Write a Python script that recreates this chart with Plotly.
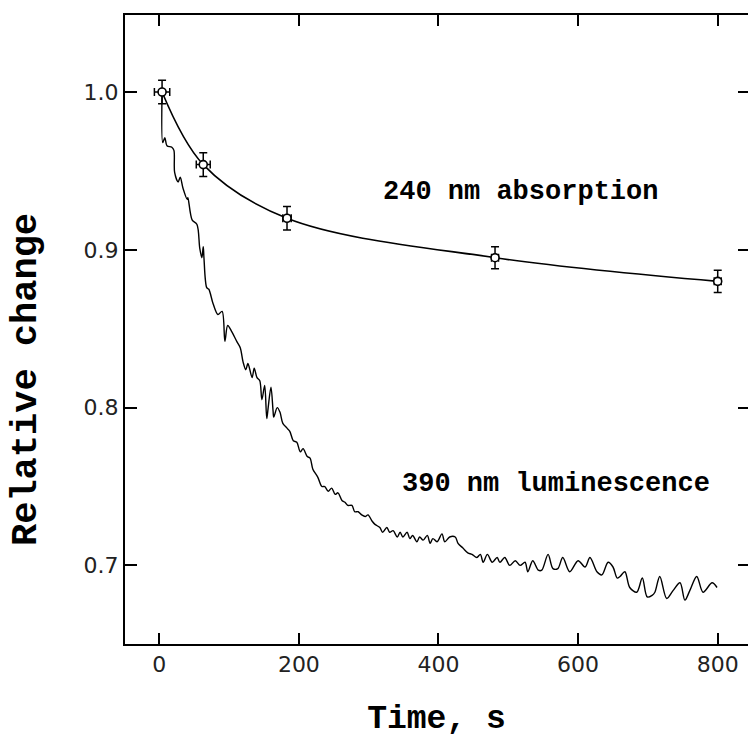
import plotly.graph_objects as go

# 240 nm absorption (points with error bars)
abs_t = [4, 63, 183, 481, 800]
abs_v = [1.000, 0.954, 0.920, 0.895, 0.880]
abs_err_v = [0.0075, 0.0075, 0.0075, 0.0070, 0.0070]
abs_err_t = [11, 10, 6, 5, 5]

# 390 nm luminescence trace
lum_t = [4, 5, 8, 11, 18, 21, 22, 27, 30, 34, 40, 41, 47, 54, 58, 61, 63, 64, 68, 71,
         77, 84, 90, 94, 98, 104, 111, 116, 120, 124, 127, 133, 136, 140, 144, 147, 151, 154, 156, 160,
         163, 164, 169, 173, 177, 183, 187, 192, 197, 202, 206, 212, 216, 220, 227, 233, 237, 242, 247, 252,
         256, 262, 266, 270, 276, 280, 285, 290, 295, 299, 305, 309, 316, 320, 326, 330, 335, 341, 345, 349,
         355, 359, 363, 369, 373, 378, 384, 388, 392, 398, 405, 409, 416, 424, 428, 435, 442, 448, 455, 460,
         464, 470, 477, 484, 488, 495, 502, 510, 517, 524, 528, 535, 543, 548, 557, 564, 571, 578, 588, 600,
         610, 617, 627, 634, 643, 650, 656, 660, 667, 674, 684, 692, 699, 706, 710, 717, 727, 736, 746, 753,
         760, 770, 779, 792, 799]
lum_v = [1.000, 0.968, 0.971, 0.966, 0.965, 0.963, 0.949, 0.943, 0.946, 0.939, 0.932, 0.933, 0.919, 0.916, 0.901, 0.895, 0.902, 0.895, 0.876, 0.875,
         0.866, 0.859, 0.861, 0.842, 0.852, 0.848, 0.842, 0.838, 0.829, 0.824, 0.828, 0.819, 0.825, 0.819, 0.817, 0.805, 0.814, 0.793, 0.800, 0.813,
         0.798, 0.794, 0.800, 0.797, 0.790, 0.787, 0.785, 0.779, 0.778, 0.772, 0.774, 0.769, 0.768, 0.761, 0.756, 0.750, 0.750, 0.747, 0.749, 0.745,
         0.746, 0.741, 0.740, 0.738, 0.738, 0.734, 0.734, 0.732, 0.731, 0.732, 0.728, 0.726, 0.724, 0.721, 0.724, 0.721, 0.722, 0.718, 0.721, 0.718,
         0.721, 0.717, 0.719, 0.715, 0.718, 0.716, 0.719, 0.714, 0.717, 0.715, 0.720, 0.715, 0.718, 0.718, 0.714, 0.711, 0.708, 0.707, 0.705, 0.707,
         0.702, 0.707, 0.702, 0.705, 0.702, 0.705, 0.700, 0.703, 0.700, 0.702, 0.696, 0.703, 0.697, 0.697, 0.707, 0.698, 0.698, 0.705, 0.696, 0.703,
         0.699, 0.705, 0.696, 0.694, 0.702, 0.699, 0.692, 0.693, 0.696, 0.686, 0.683, 0.692, 0.680, 0.681, 0.683, 0.693, 0.679, 0.684, 0.689, 0.678,
         0.684, 0.693, 0.683, 0.689, 0.686]

x_ticks = [0, 200, 400, 600, 800]
y_ticks = [0.7, 0.8, 0.9, 1.0]
y_tick_text = ["0.7", "0.8", "0.9", "1.0"]

fig = go.Figure()

fig.add_trace(go.Scatter(
    x=lum_t, y=lum_v, mode="lines",
    line=dict(color="black", width=1.4, shape="spline", smoothing=0.9),
    showlegend=False,
))

fig.add_trace(go.Scatter(
    x=abs_t, y=abs_v, mode="lines",
    line=dict(color="black", width=1.6, shape="spline", smoothing=1.0),
    showlegend=False,
))

fig.add_trace(go.Scatter(
    x=abs_t, y=abs_v, mode="markers",
    marker=dict(symbol="circle", size=8, color="white", line=dict(color="black", width=1.6)),
    error_y=dict(type="data", array=abs_err_v, color="black", thickness=1.5, width=4),
    error_x=dict(type="data", array=abs_err_t, color="black", thickness=1.5, width=4),
    showlegend=False,
))

# invisible trace on the right-hand axis so its ticks are drawn
fig.add_trace(go.Scatter(x=[abs_t[0]], y=[abs_v[0]], yaxis="y2", mode="markers",
                         marker=dict(opacity=0), showlegend=False, hoverinfo="skip"))

mono = "Liberation Mono, Courier New, monospace"
tick_font = dict(family="DejaVu Sans, sans-serif", size=22, color="#222")
y_range = [0.6502, 1.0488]

fig.update_layout(
    width=748, height=747,
    margin=dict(l=125, r=0, t=15, b=103),
    paper_bgcolor="white", plot_bgcolor="white",
    xaxis=dict(
        range=[-49.1, 843.4], tickvals=x_ticks,
        ticks="inside", ticklen=11, tickwidth=1.5, tickcolor="black",
        showline=True, linecolor="black", linewidth=2, mirror="ticks",
        showgrid=False, zeroline=False,
        tickfont=tick_font,
        title=dict(text="<b>Time, s</b>", font=dict(family=mono, size=33, color="black"), standoff=28),
    ),
    yaxis=dict(
        range=y_range, tickvals=y_ticks, ticktext=y_tick_text,
        ticks="inside", ticklen=12, tickwidth=1.5, tickcolor="black",
        showline=True, linecolor="black", linewidth=2, mirror=False,
        showgrid=False, zeroline=False,
        tickfont=tick_font,
    ),
    yaxis2=dict(
        range=y_range, tickvals=y_ticks, overlaying="y", side="right",
        ticks="inside", ticklen=10, tickwidth=1.5, tickcolor="black",
        showline=False, showticklabels=False, showgrid=False, zeroline=False,
    ),
)

# label positions in pixel terms -> paper coordinates
pl, pr, pt, pb = 125, 748, 15, 644
labels = [("<b>240 nm absorption</b>", 520, 192, 27, 0),
          ("<b>390 nm luminescence</b>", 556, 484, 27, 0),
          ("<b>Relative change</b>", 26, 380, 37, -90)]
for text, px, py, size, angle in labels:
    fig.add_annotation(
        x=(px - pl) / (pr - pl), y=(pb - py) / (pb - pt), xref="paper", yref="paper",
        xanchor="center", yanchor="middle", text=text, showarrow=False, textangle=angle,
        font=dict(family=mono, size=size, color="black"),
    )

fig.write_html("out.html", config={"displayModeBar": False},
               post_script="document.body.style.margin='0px';")
